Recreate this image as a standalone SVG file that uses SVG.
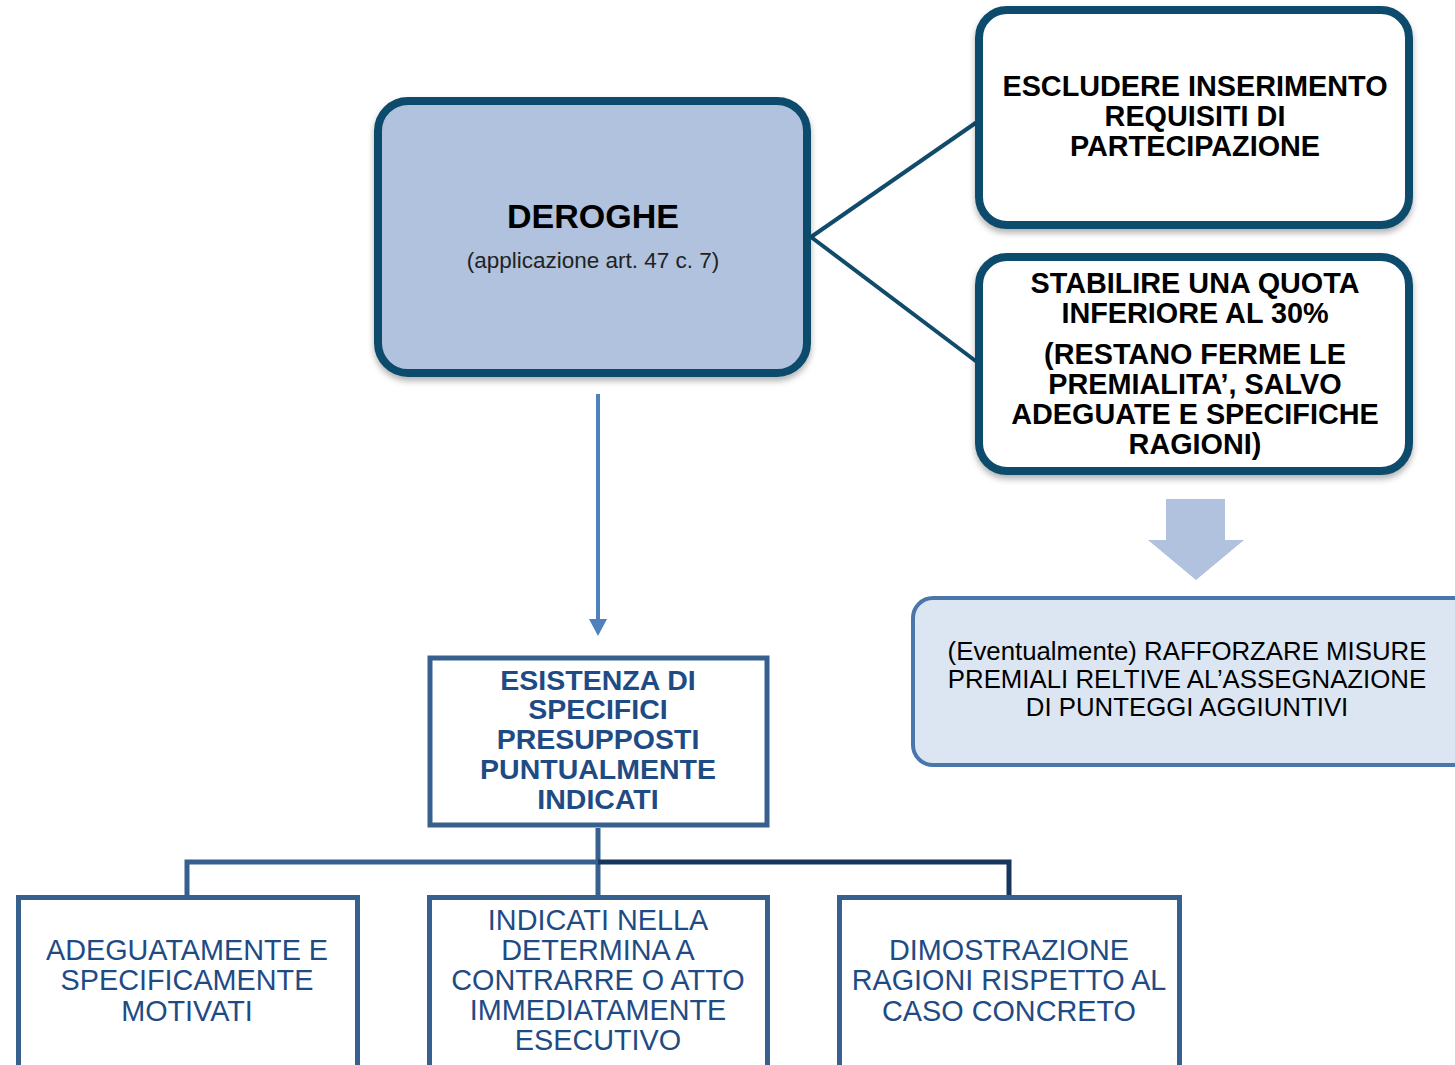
<svg xmlns="http://www.w3.org/2000/svg" width="1455" height="1065" viewBox="0 0 1455 1065">
<style>
.bold{font-family:"Liberation Sans",Arial,sans-serif;font-weight:bold;text-anchor:middle}
.reg{font-family:"Liberation Sans",Arial,sans-serif;text-anchor:middle}
.dark{fill:#ffffff;stroke:#104b6c;stroke-width:8}
.sq{fill:#ffffff;stroke:#38608f;stroke-width:5}
.btxt{fill:#1f4b85}
</style>
<defs>
<filter id="sh" x="-10%" y="-10%" width="120%" height="125%">
<feDropShadow dx="0" dy="4" stdDeviation="3" flood-color="#000" flood-opacity="0.3"/>
</filter>
</defs>

<g id="connectors">
<line x1="811" y1="237" x2="977" y2="122" stroke="#104b6c" stroke-width="4"/>
<line x1="811" y1="237" x2="977" y2="362" stroke="#104b6c" stroke-width="4"/>
<line x1="598" y1="394" x2="598" y2="622" stroke="#4f81bd" stroke-width="4"/>
<polygon points="589,619 607,619 598,636" fill="#4f81bd"/>
<path d="M1166,499 H1225 V540 H1244 L1196,580 L1148,540 H1166 Z" fill="#b0c2dd"/>
<path d="M598,828 V897" stroke="#38608f" stroke-width="5" fill="none"/>
<path d="M598,862 H187 V897" stroke="#38608f" stroke-width="5" fill="none"/>
<path d="M598,862 H1009 V897" stroke="#17365d" stroke-width="5" fill="none"/>
</g>

<g id="deroghe">
<rect x="378" y="101" width="429" height="272" rx="30" fill="#b0c2dd" stroke="#104b6c" stroke-width="8" filter="url(#sh)"/>
<text class="bold" x="593" y="228" font-size="34" fill="#000">DEROGHE</text>
<text class="reg" x="593" y="268" font-size="22.5" fill="#222">(applicazione art. 47 c. 7)</text>
</g>

<g id="escludere">
<rect class="dark" x="979" y="10" width="430" height="215" rx="28" filter="url(#sh)"/>
<text class="bold" font-size="28.8" fill="#000"><tspan x="1195" y="96">ESCLUDERE INSERIMENTO</tspan><tspan x="1195" y="126">REQUISITI DI</tspan><tspan x="1195" y="156">PARTECIPAZIONE</tspan></text>
</g>

<g id="stabilire">
<rect class="dark" x="979" y="257" width="430" height="214" rx="28" filter="url(#sh)"/>
<text class="bold" font-size="28.8" fill="#000"><tspan x="1195" y="293">STABILIRE UNA QUOTA</tspan><tspan x="1195" y="323">INFERIORE AL 30%</tspan><tspan x="1195" y="364">(RESTANO FERME LE</tspan><tspan x="1195" y="394">PREMIALITA’, SALVO</tspan><tspan x="1195" y="424">ADEGUATE E SPECIFICHE</tspan><tspan x="1195" y="454">RAGIONI)</tspan></text>
</g>

<g id="rafforzare">
<rect x="913" y="598" width="560" height="167" rx="20" fill="#dce6f2" stroke="#4a76ab" stroke-width="4"/>
<text class="reg" font-size="25.8" fill="#000"><tspan x="1187" y="660">(Eventualmente) RAFFORZARE MISURE</tspan><tspan x="1187" y="688">PREMIALI RELTIVE AL’ASSEGNAZIONE</tspan><tspan x="1187" y="716">DI PUNTEGGI AGGIUNTIVI</tspan></text>
</g>

<g id="esistenza">
<rect class="sq" x="430" y="658" width="337" height="167"/>
<text class="bold btxt" font-size="28.5"><tspan x="598" y="690">ESISTENZA DI</tspan><tspan x="598" y="719">SPECIFICI</tspan><tspan x="598" y="749">PRESUPPOSTI</tspan><tspan x="598" y="779">PUNTUALMENTE</tspan><tspan x="598" y="809">INDICATI</tspan></text>
</g>

<g id="adeguatamente">
<rect class="sq" x="18.5" y="897.5" width="339" height="200"/>
<text class="reg btxt" font-size="28.8"><tspan x="187" y="960">ADEGUATAMENTE E</tspan><tspan x="187" y="990">SPECIFICAMENTE</tspan><tspan x="187" y="1021">MOTIVATI</tspan></text>
</g>

<g id="indicati">
<rect class="sq" x="429.5" y="897.5" width="338" height="200"/>
<text class="reg btxt" font-size="28.8"><tspan x="598" y="930">INDICATI NELLA</tspan><tspan x="598" y="960">DETERMINA A</tspan><tspan x="598" y="990">CONTRARRE O ATTO</tspan><tspan x="598" y="1020">IMMEDIATAMENTE</tspan><tspan x="598" y="1050">ESECUTIVO</tspan></text>
</g>

<g id="dimostrazione">
<rect class="sq" x="839.5" y="897.5" width="340" height="200"/>
<text class="reg btxt" font-size="28.8"><tspan x="1009" y="960">DIMOSTRAZIONE</tspan><tspan x="1009" y="990">RAGIONI RISPETTO AL</tspan><tspan x="1009" y="1021">CASO CONCRETO</tspan></text>
</g>
</svg>
